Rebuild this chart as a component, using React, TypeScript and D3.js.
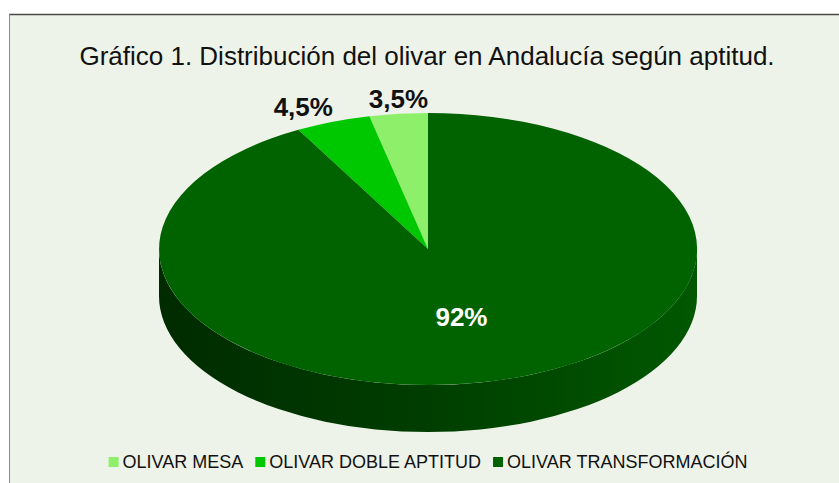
import React, { useEffect, useRef } from "react";
import * as d3 from "d3";

const categories = ["OLIVAR MESA", "OLIVAR DOBLE APTITUD", "OLIVAR TRANSFORMACIÓN"];
const values = [3.5, 4.5, 92];
const labels = ["3,5%", "4,5%", "92%"];
const colors = ["#8ef06a", "#00c800", "#006300"];
const title = "Gráfico 1. Distribución del olivar en Andalucía según aptitud.";

const W = 839;
const H = 483;

export default function App() {
  const ref = useRef<SVGSVGElement>(null);

  useEffect(() => {
    const svg = d3.select(ref.current);
    svg.selectAll("*").remove();
    const font = "'Liberation Sans', Arial, sans-serif";

    // background & frame
    svg.append("rect").attr("x", 0).attr("y", 0).attr("width", W).attr("height", H).attr("fill", "#ffffff");
    svg.append("rect").attr("x", 9).attr("y", 14).attr("width", W - 9).attr("height", H - 14).attr("fill", "#eef3e9");
    svg.append("line").attr("x1", 9).attr("x2", W).attr("y1", 14.5).attr("y2", 14.5).attr("stroke", "#4a4a4a").attr("stroke-width", 1.5);
    svg.append("line").attr("x1", 9.5).attr("x2", 9.5).attr("y1", 14).attr("y2", H).attr("stroke", "#8a8a8a").attr("stroke-width", 1);

    // title
    svg.append("text")
      .attr("x", 427).attr("y", 65)
      .attr("text-anchor", "middle")
      .attr("font-family", font)
      .attr("font-size", 26)
      .attr("fill", "#111")
      .text(title);

    const cx = 428, cy = 249, rx = 269, ry = 136, depth = 47;

    const defs = svg.append("defs");
    const grad = defs.append("linearGradient").attr("id", "side").attr("x1", "0").attr("x2", "1").attr("y1", "0").attr("y2", "0");
    grad.append("stop").attr("offset", "0%").attr("stop-color", "#002b00");
    grad.append("stop").attr("offset", "50%").attr("stop-color", "#003e00");
    grad.append("stop").attr("offset", "100%").attr("stop-color", "#005800");

    const pie = d3.pie<number>().sort(null).value((d) => d).startAngle(0).endAngle(-2 * Math.PI);
    const arcs = pie(values);

    // side (front half)
    const sidePath = `M${cx - rx},${cy} L${cx - rx},${cy + depth} A${rx},${ry} 0 0 0 ${cx + rx},${cy + depth} L${cx + rx},${cy} A${rx},${ry} 0 0 1 ${cx - rx},${cy} Z`;
    svg.append("path").attr("d", sidePath).attr("fill", "url(#side)");

    // top face
    const arcGen = d3.arc<d3.PieArcDatum<number>>().innerRadius(0).outerRadius(1);
    const top = svg.append("g").attr("transform", `translate(${cx},${cy}) scale(${rx},${ry})`);
    top.selectAll("path").data(arcs).join("path")
      .attr("d", (d) => arcGen(d) as string)
      .attr("fill", (_, i) => colors[i]);

    // labels
    arcs.forEach((a, i) => {
      const mid = (a.startAngle + a.endAngle) / 2;
      const s = Math.sin(mid), c = Math.cos(mid);
      if (i === arcs.length - 1) {
        svg.append("text")
          .attr("x", cx + rx * 0.5 * s)
          .attr("y", cy - ry * 0.5 * c + 11)
          .attr("text-anchor", "middle")
          .attr("font-family", font).attr("font-weight", "bold").attr("font-size", 26)
          .attr("fill", "#ffffff")
          .text(labels[i]);
      } else {
        const px = cx + rx * s, py = cy - ry * c;
        const anchor = Math.abs(s) < 0.2 ? "middle" : s < 0 ? "end" : "start";
        svg.append("text")
          .attr("x", px).attr("y", py - 5.5)
          .attr("text-anchor", anchor)
          .attr("font-family", font).attr("font-weight", "bold").attr("font-size", 26)
          .attr("fill", "#111")
          .text(labels[i]);
      }
    });

    // legend
    const lg = svg.append("g");
    const sq = 10, gapText = 4, gapItem = 12, baseline = 468;
    let x = 0;
    categories.forEach((cat, i) => {
      lg.append("rect").attr("x", x).attr("y", baseline - 11).attr("width", sq).attr("height", sq).attr("fill", colors[i]);
      const t = lg.append("text")
        .attr("x", x + sq + gapText).attr("y", baseline)
        .attr("font-family", font).attr("font-size", 18)
        .attr("fill", "#111")
        .text(cat);
      const w = (t.node() as SVGTextElement).getComputedTextLength();
      x += sq + gapText + w + gapItem;
    });
    const total = x - gapItem;
    lg.attr("transform", `translate(${428 - total / 2},0)`);
  }, []);

  return <svg ref={ref} width={W} height={H} style={{ display: "block", position: "absolute", left: 0, top: 0 }} />;
}
